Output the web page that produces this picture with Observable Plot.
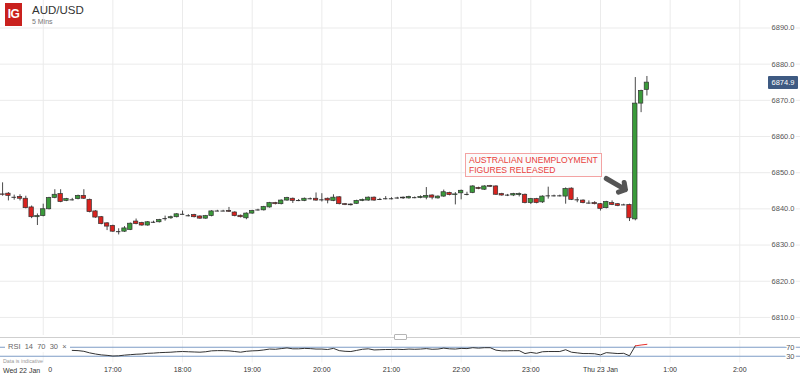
<!DOCTYPE html>
<html><head><meta charset="utf-8">
<script src="https://cdn.jsdelivr.net/npm/d3@7"></script>
<script src="https://cdn.jsdelivr.net/npm/@observablehq/plot@0.6"></script>
<style>
html,body{margin:0;padding:0;background:#fff;}
#wrap{position:relative;width:800px;height:377px;overflow:hidden;font-family:"Liberation Sans",Arial,sans-serif;}
#wrap svg{display:block;}
.ov{position:absolute;white-space:nowrap;}
</style></head><body><div id="wrap"></div>
<script>
// ---- data (5-minute candles, AUD/USD x10000) ----
const startTime = Date.UTC(2020, 0, 22, 15, 25);
const stepMinutes = 5;
const open = [
6844.0,6844.2,6843.2,6843.3,6842.8,6840.4,6837.7,6838.0,6839.9,6843.0,
6844.1,6842.2,6842.5,6842.7,6843.6,6842.5,6839.3,6837.7,6836.0,6835.3,
6833.7,6833.7,6834.2,6836.5,6836.1,6835.4,6836.3,6836.3,6837.3,6837.4,
6837.7,6838.5,6838.1,6838.3,6837.9,6837.3,6838.0,6839.4,6839.4,6839.4,
6839.0,6838.1,6837.4,6838.7,6839.7,6839.6,6840.4,6841.6,6841.3,6842.3,
6842.8,6842.3,6842.2,6842.8,6842.8,6842.5,6842.8,6842.2,6843.2,6841.3,
6841.2,6841.4,6842.2,6842.3,6843.1,6842.6,6842.8,6842.8,6843.0,6843.1,
6842.9,6843.1,6843.0,6843.1,6843.7,6842.9,6843.4,6844.4,6843.8,6844.3,
6844.0,6844.4,6845.8,6845.3,6846.3,6846.2,6844.1,6843.8,6843.7,6843.8,
6843.9,6841.6,6842.7,6841.8,6843.6,6843.6,6843.6,6843.4,6845.6,6842.5,
6842.3,6841.6,6841.6,6841.3,6840.2,6841.6,6841.3,6841.1,6841.1,6837.1,
6869.1,6872.9];
const high = [
6847.2,6844.5,6843.8,6843.9,6843.5,6840.8,6838.6,6841.3,6843.2,6845.3,
6845.3,6842.9,6842.9,6843.8,6845.3,6842.7,6839.5,6837.9,6836.2,6835.5,
6834.5,6835.1,6836.1,6837.2,6836.3,6836.5,6836.6,6837.1,6838.0,6838.0,
6838.7,6839.4,6838.4,6838.5,6838.1,6838.2,6839.5,6839.6,6839.6,6840.4,
6839.2,6838.3,6838.9,6839.6,6839.9,6840.7,6841.8,6841.8,6842.5,6843.2,
6843.0,6842.6,6843.0,6843.0,6844.4,6844.2,6843.0,6843.9,6843.4,6841.5,
6841.4,6842.4,6842.7,6843.3,6843.3,6842.9,6843.4,6843.1,6843.2,6843.3,
6843.5,6843.3,6843.6,6845.9,6843.9,6843.6,6845.2,6844.6,6844.5,6845.2,
6844.6,6846.4,6846.0,6846.4,6846.5,6846.4,6844.3,6844.0,6844.3,6844.4,
6844.1,6842.9,6842.9,6843.6,6846.0,6843.8,6843.8,6845.8,6845.8,6843.1,
6842.5,6842.2,6842.0,6841.5,6842.1,6842.2,6841.5,6841.3,6841.3,6876.3,
6872.8,6876.6];
const low = [
6843.5,6842.2,6842.4,6842.2,6840.0,6837.3,6835.4,6837.8,6839.7,6842.8,
6841.7,6842.0,6842.2,6842.5,6842.6,6838.9,6837.4,6835.6,6834.0,6833.5,
6832.8,6833.5,6834.0,6835.6,6835.2,6835.2,6836.0,6836.1,6836.6,6837.1,
6837.5,6838.3,6837.8,6837.5,6837.1,6837.1,6837.8,6839.2,6839.2,6839.0,
6837.8,6837.5,6837.0,6838.5,6839.4,6839.4,6840.2,6841.1,6841.1,6842.1,
6841.5,6842.0,6842.0,6842.5,6842.1,6841.9,6841.4,6842.0,6841.1,6840.9,
6840.8,6841.2,6842.0,6842.1,6842.1,6842.3,6842.5,6842.5,6842.7,6842.6,
6842.7,6842.8,6842.8,6842.5,6842.5,6842.7,6843.2,6843.6,6841.1,6842.5,
6843.6,6844.2,6845.3,6845.1,6845.9,6843.7,6843.5,6843.4,6843.4,6843.3,
6841.4,6841.2,6841.4,6841.5,6842.7,6843.3,6843.3,6841.3,6842.3,6841.7,
6841.4,6841.3,6841.1,6839.4,6840.0,6840.9,6840.6,6840.9,6836.5,6836.7,
6866.6,6871.2];
const close = [
6843.9,6843.6,6843.2,6842.8,6840.2,6837.7,6838.0,6839.9,6843.0,6843.9,
6841.9,6842.7,6842.5,6843.6,6842.8,6839.1,6837.6,6835.8,6835.1,6833.7,
6833.7,6834.6,6835.9,6835.8,6835.4,6836.3,6836.3,6836.9,6837.3,6837.7,
6838.5,6838.5,6838.1,6837.7,6837.3,6838.0,6839.3,6839.4,6839.4,6839.2,
6838.0,6837.7,6838.7,6839.4,6839.7,6840.5,6841.6,6841.3,6842.3,6843.0,
6842.2,6842.3,6842.8,6842.8,6842.3,6842.5,6842.3,6843.1,6841.3,6841.1,
6841.0,6842.2,6842.5,6843.1,6842.3,6842.6,6842.8,6842.8,6843.0,6842.9,
6843.3,6843.1,6843.3,6843.6,6843.1,6843.4,6844.6,6843.8,6844.0,6845.0,
6844.0,6846.2,6845.5,6846.2,6846.1,6843.9,6843.7,6843.8,6844.1,6844.1,
6841.6,6842.7,6841.6,6843.4,6843.6,6843.6,6843.6,6845.5,6842.5,6842.5,
6841.6,6841.6,6841.3,6840.0,6841.9,6841.1,6840.8,6841.1,6837.4,6869.1,
6872.6,6874.9];

// RSI(14) values, starting at candle index rsiStart
const rsiStart = 12;
const rsi = [
56,55,52,45,40,36,34,31,32,35,
37,39,40,43,44,46,47,48,50,51,
50,49,48,50,54,55,55,54,51,48,
52,54,55,58,62,61,64,67,63,63,
65,64,62,62,60,65,55,52,51,56,
61,63,58,59,60,60,61,60,62,61,
62,64,61,62,66,63,62,65,64,68,
66,68,68,57,54,54,55,55,42,47,
43,50,51,51,51,59,48,45,42,42,
41,36,46,44,42,43,32,76,80,83];
const rsiOverboughtFrom = 109;
const rsiLevels = [70, 30];

const priceTicks = [6810, 6820, 6830, 6840, 6850, 6860, 6870, 6880, 6890];
const hourTicks = [
  Date.UTC(2020,0,22,16), Date.UTC(2020,0,22,17), Date.UTC(2020,0,22,18), Date.UTC(2020,0,22,19),
  Date.UTC(2020,0,22,20), Date.UTC(2020,0,22,21), Date.UTC(2020,0,22,22), Date.UTC(2020,0,22,23),
  Date.UTC(2020,0,23,0), Date.UTC(2020,0,23,1), Date.UTC(2020,0,23,2)].map(t => new Date(t));
// first hour label is mostly hidden behind the day label in the reference: only its last "0" shows
const hourLabels = ["0","17:00","18:00","19:00","20:00","21:00","22:00","23:00","Thu 23 Jan","1:00","2:00"];
const startDayLabel = "Wed 22 Jan";
const lastPrice = 6874.9;
const symbol = "AUD/USD";
const interval = "5 Mins";

const annotationLines = ["AUSTRALIAN UNEMPLOYMENT", "FIGURES RELEASED"];
const annotationAt = {time: Date.UTC(2020,0,22,22,3,40), price: 6855.2};
const arrowFrom = {time: Date.UTC(2020,0,23,0,5), price: 6848.4};
const arrowTo = {time: Date.UTC(2020,0,23,0,21,30), price: 6845.3};

// ---- build ----
const candles = open.map((o, i) => {
  const c = close[i];
  return {t: new Date(startTime + i * stepMinutes * 60000), o, c,
          h: Math.max(high[i], o, c), l: Math.min(low[i], o, c)};
});
const half = 1.9 * 60000;
const bodies = candles.filter(d => d.o !== d.c);
const dojis = candles.filter(d => d.o === d.c);
const rsiPts = rsi.map((v, k) => ({t: candles[rsiStart + k].t, i: rsiStart + k, v}));

const xDomain = [new Date(Date.UTC(2020,0,22,15,23,12)), new Date(Date.UTC(2020,0,23,2,52,18))];
const FONT = '"Liberation Sans", Arial, sans-serif';
const grid = "#ebebeb";

const main = Plot.plot({
  width: 800, height: 335, marginTop: 0, marginBottom: 0, marginLeft: 0, marginRight: 0,
  x: {type: "utc", domain: xDomain, axis: null},
  y: {domain: [6805, 6897.6], axis: null},
  style: {fontFamily: FONT, background: "transparent"},
  marks: [
    Plot.ruleY(priceTicks, {stroke: grid}),
    Plot.ruleX(hourTicks, {stroke: grid}),
    Plot.ruleX(candles, {x: "t", y1: "l", y2: "h", stroke: "#4a4a4a", strokeWidth: 1}),
    Plot.rect(bodies, {
      x1: d => new Date(+d.t - half), x2: d => new Date(+d.t + half),
      y1: "o", y2: "c",
      fill: d => d.c > d.o ? "#3a9a3a" : "#d9221e",
      stroke: "#333", strokeWidth: 0.7
    }),
    Plot.ruleY(dojis, {y: "o", x1: d => new Date(+d.t - half), x2: d => new Date(+d.t + half), stroke: "#333", strokeWidth: 1}),
    Plot.arrow([{}], {
      x1: () => new Date(arrowFrom.time), y1: () => arrowFrom.price,
      x2: () => new Date(arrowTo.time), y2: () => arrowTo.price,
      stroke: "#555", strokeWidth: 5, headLength: 8, headAngle: 100
    }),
    Plot.text(priceTicks, {
      y: d => d, text: d => d.toFixed(1), frameAnchor: "right", dx: -6, textAnchor: "end",
      fontSize: 7.5, fill: "#555", stroke: "white", strokeWidth: 3
    })
  ]
});

const firstTick = hourTicks.slice(0, 1);
const rsiPlot = Plot.plot({
  width: 800, height: 42, marginTop: 5, marginBottom: 14.5, marginLeft: 0, marginRight: 0,
  x: {type: "utc", domain: xDomain, axis: null},
  y: {domain: [0, 100], axis: null},
  style: {fontFamily: FONT, background: "transparent"},
  marks: [
    Plot.ruleX(hourTicks, {stroke: "#f1f1f1", y1: 0, y2: 100}),
    Plot.ruleY(rsiLevels, {stroke: "#7e9cc6", strokeWidth: 1.2}),
    Plot.line(rsiPts.filter(d => d.i <= rsiOverboughtFrom), {x: "t", y: "v", stroke: "#333", strokeWidth: 1}),
    Plot.line(rsiPts.filter(d => d.i >= rsiOverboughtFrom), {x: "t", y: "v", stroke: "#e8302c", strokeWidth: 1}),
    Plot.text(rsiLevels, {
      y: d => d, text: d => String(d), frameAnchor: "right", dx: -6, textAnchor: "end",
      fontSize: 7.5, fill: "#555", stroke: "white", strokeWidth: 3
    }),
    Plot.axisX(hourTicks.slice(1), {
      label: null, tickSize: 0, tickPadding: 4, fontSize: 7, fill: "#333",
      tickFormat: (d) => hourLabels[hourTicks.findIndex(h => +h === +d)]
    }),
    Plot.axisX(firstTick, {
      label: null, tickSize: 0, tickPadding: 4, fontSize: 7, fill: "#333", dx: 7,
      tickFormat: () => hourLabels[0]
    })
  ]
});

const wrap = document.getElementById("wrap");
wrap.appendChild(main);
wrap.appendChild(rsiPlot);

function ov(html, css) {
  const d = document.createElement("div");
  d.className = "ov";
  d.innerHTML = html;
  Object.assign(d.style, css);
  wrap.appendChild(d);
  return d;
}
const xs = main.scale("x"), ys = main.scale("y");

// header
ov("IG", {left: "5px", top: "3px", width: "17px", height: "23px", background: "#c9211e", color: "#fff",
  fontWeight: "bold", fontSize: "12px", lineHeight: "23px", textAlign: "center", letterSpacing: "-0.5px"});
ov(symbol, {left: "32px", top: "3px", fontSize: "11.5px", color: "#333", lineHeight: "14px"});
ov(interval, {left: "32px", top: "18px", fontSize: "7px", color: "#777", lineHeight: "8px"});

// last price tag
const ly = ys.apply(lastPrice);
ov(lastPrice.toFixed(1), {left: "768px", top: (ly - 6.5) + "px", width: "30px", height: "13px", background: "#3e5a82",
  color: "#fff", fontSize: "7.5px", lineHeight: "13px", textAlign: "center", borderRadius: "1px"});

// annotation
const ax = xs.apply(new Date(annotationAt.time)), ay = ys.apply(annotationAt.price);
ov(annotationLines.join("<br>"), {left: ax + "px", top: ay + "px", padding: "1px 3px 1px 3px",
  border: "1px solid #f3a3a3", background: "#fbfbfb", color: "#e8413c", fontSize: "8.6px", lineHeight: "10px"});

// pane separator and handle
ov("", {left: "0px", top: "336.5px", width: "800px", height: "1px", background: "#cfcfcf"});
ov("", {left: "394px", top: "334px", width: "11px", height: "4px", background: "#fff", border: "1px solid #b5b5b5", borderRadius: "1px"});

// RSI legend + note
ov("RSI&nbsp;&nbsp;14&nbsp;&nbsp;70&nbsp;&nbsp;30&nbsp;&nbsp;×", {left: "5px", top: "342px", padding: "0 3px", background: "#fff",
  color: "#666", fontSize: "7.5px", lineHeight: "10px"});
ov("Data is indicative", {left: "3px", top: "357.5px", color: "#9a9a9a", fontSize: "5.3px", lineHeight: "6px"});

// start day label
ov(startDayLabel, {left: "0px", top: "365.5px", paddingLeft: "3px", paddingRight: "2px", background: "#fff",
  color: "#333", fontSize: "7px", lineHeight: "9px"});
</script>
</body></html>
